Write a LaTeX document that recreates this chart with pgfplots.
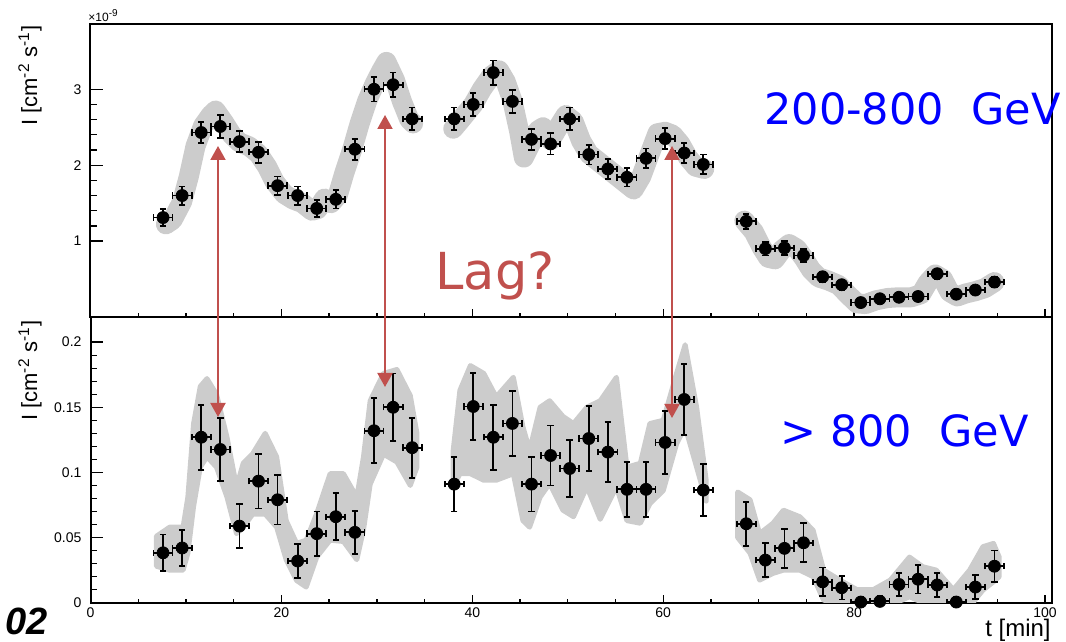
\documentclass[border=0pt]{standalone}
\usepackage{pgfplots}
\pgfplotsset{compat=1.18}
\usepackage{pgfplotstable}
\usepackage{fontspec}
\setmainfont{Liberation Sans}
\newfontfamily\dejavu{DejaVu Sans}
\usetikzlibrary{arrows.meta}
\definecolor{lagred}{RGB}{192,80,77}
\definecolor{band}{RGB}{204,204,204}
\definecolor{gevblue}{RGB}{0,0,255}

% top panel points: t, flux (1e-9 cm^-2 s^-1), t error, flux error
\pgfplotstableread{
t v et ev
7.6 1.31 1 0.11
9.6 1.60 1 0.12
11.6 2.43 1 0.14
13.6 2.51 1 0.15
15.6 2.31 1 0.14
17.6 2.17 1 0.14
19.6 1.73 1 0.12
21.7 1.60 1 0.12
23.7 1.43 1 0.11
25.7 1.55 1 0.12
27.7 2.21 1 0.14
29.7 3.00 1 0.16
31.7 3.06 1 0.16
33.7 2.61 1 0.15
38.1 2.61 1 0.15
40.1 2.80 1 0.15
42.2 3.22 1 0.16
44.2 2.84 1 0.15
46.2 2.34 1 0.14
48.2 2.28 1 0.14
50.2 2.61 1 0.15
52.2 2.14 1 0.13
54.2 1.95 1 0.13
56.2 1.84 1 0.12
58.2 2.09 1 0.13
60.2 2.35 1 0.14
62.2 2.16 1 0.13
64.2 2.01 1 0.13
68.7 1.26 1 0.10
70.7 0.90 1 0.09
72.7 0.91 1 0.09
74.7 0.81 1 0.09
76.7 0.53 1 0.07
78.7 0.425 1 0.07
80.7 0.19 1 0.05
82.7 0.24 1 0.06
84.7 0.26 1 0.06
86.7 0.27 1 0.06
88.7 0.57 1 0.07
90.7 0.30 1 0.06
92.7 0.355 1 0.06
94.7 0.46 1 0.07
}\toppts

% bottom panel points
\pgfplotstableread{
t v et ev
7.6 0.0383 1 0.014
9.6 0.042 1 0.014
11.6 0.127 1 0.025
13.6 0.1176 1 0.024
15.6 0.0588 1 0.017
17.6 0.0933 1 0.021
19.6 0.079 1 0.019
21.7 0.032 1 0.013
23.7 0.053 1 0.017
25.7 0.066 1 0.018
27.7 0.054 1 0.0165
29.7 0.132 1 0.025
31.7 0.150 1 0.026
33.7 0.119 1 0.023
38.1 0.091 1 0.021
40.1 0.1506 1 0.026
42.2 0.127 1 0.025
44.2 0.1376 1 0.025
46.2 0.091 1 0.021
48.2 0.113 1 0.023
50.2 0.103 1 0.022
52.2 0.126 1 0.025
54.2 0.1156 1 0.023
56.2 0.087 1 0.021
58.2 0.087 1 0.021
60.2 0.123 1 0.024
62.2 0.156 1 0.027
64.2 0.0864 1 0.020
68.7 0.0606 1 0.017
70.7 0.0327 1 0.013
72.7 0.0417 1 0.015
74.7 0.046 1 0.015
76.7 0.016 1 0.011
78.7 0.0115 1 0.009
80.7 0.0005 1 0.004
82.7 0.001 1 0.004
84.7 0.014 1 0.009
86.7 0.018 1 0.011
88.7 0.0136 1 0.009
90.7 0.0005 1 0.004
92.7 0.012 1 0.009
94.7 0.028 1 0.012
}\botpts

\begin{document}
\begin{tikzpicture}
\useasboundingbox (0,0) rectangle (533pt,321pt);
\pgfplotsset{
  panel/.style={
    scale only axis, width=480.6pt,
    xmin=0, xmax=100.7,
    axis line style={line width=1pt},
    tick style={line width=0.65pt, black},
    tick align=inside, tick pos=left,
    xtick={0,20,40,60,80,100},
    minor x tick num=3, minor y tick num=4,
    xtick style={/pgfplots/major tick length=4pt,/pgfplots/minor tick length=2pt},
    ytick style={/pgfplots/major tick length=6.3pt,/pgfplots/minor tick length=3.3pt},
    ticklabel style={font=\fontsize{7}{8}\selectfont},
    xticklabel style={yshift=1pt},
    yticklabel style={xshift=-1pt},
  },
  pts/.style={
    black, only marks, mark=*, mark size=3pt,
    error bars/.cd, x dir=both, x explicit, y dir=both, y explicit,
    error bar style={line width=0.9pt, black},
    error mark options={rotate=90, black, mark size=1.6pt, line width=0.9pt},
  },
  topband/.style={band, line width=10pt, line join=round, line cap=round, mark=none},
  botband/.style={fill=band, draw=band, line width=2.5pt, line join=round, mark=none},
}

% ---------------- top panel ----------------
\begin{axis}[panel, height=146.5pt, at={(45.25pt,162.5pt)}, anchor=south west,
  ymin=0, ymax=3.86, ytick={1,2,3}, yticklabels={1,2,3}, xticklabels={}]
\addplot[topband] coordinates {(7.9,1.22) (8.6,1.28) (9.6,1.52) (10.3,1.85) (11.0,2.25) (11.8,2.52) (12.6,2.66) (13.1,2.72) (14.0,2.56) (14.8,2.4) (15.6,2.3) (16.6,2.25) (17.6,2.15) (18.5,1.98) (19.3,1.78) (20.3,1.62) (21.2,1.55) (22.2,1.5) (23.2,1.4) (23.8,1.42) (24.5,1.56) (25.2,1.5) (25.9,1.6) (26.6,1.9) (27.4,2.2) (28.2,2.55) (29.0,2.85) (29.8,3.08) (30.5,3.25) (31.0,3.36) (31.9,3.12) (32.6,2.85) (33.4,2.6) (33.8,2.55)};
\addplot[topband] coordinates {(38.0,2.48) (38.8,2.6) (40.1,2.8) (41.0,3.0) (42.0,3.18) (42.8,3.25) (43.5,3.1) (44.2,2.85) (44.9,2.45) (45.4,2.1) (46.2,2.3) (46.8,2.45) (47.4,2.5) (48.2,2.33) (49.0,2.5) (49.8,2.66) (50.6,2.58) (51.4,2.32) (52.2,2.15) (53.2,2.05) (54.2,1.95) (55.2,1.85) (56.2,1.75) (56.9,1.68) (57.7,1.85) (58.5,2.12) (59.4,2.42) (60.2,2.44) (61.0,2.4) (61.8,2.28) (62.6,2.1) (63.4,1.98) (64.3,1.95)};
\addplot[topband] coordinates {(68.5,1.27) (69.5,1.12) (70.3,0.92) (71.0,0.78) (71.7,0.76) (72.4,0.88) (73.2,0.96) (74.0,0.9) (74.7,0.78) (75.5,0.62) (76.3,0.52) (77.3,0.48) (78.4,0.42) (79.3,0.3) (80.3,0.18) (81.2,0.17) (82.3,0.22) (83.5,0.25) (84.7,0.26) (86.0,0.26) (87.0,0.3) (87.7,0.45) (88.5,0.56) (89.3,0.5) (90.0,0.33) (90.8,0.27) (91.7,0.31) (92.7,0.34) (93.7,0.38) (94.7,0.46)};
\addplot[pts] table[x=t, y=v, x error=et, y error=ev] {\toppts};
\end{axis}

% ---------------- bottom panel ----------------
\begin{axis}[panel, height=142.85pt, at={(45.25pt,19.65pt)}, anchor=south west,
  ymin=0, ymax=0.2193, ytick={0,0.05,0.1,0.15,0.2}, yticklabels={0,0.05,0.1,0.15,0.2},
  xticklabels={0,20,40,60,80,100}]
\addplot[botband] coordinates {(6.9,0.051) (8.3,0.058) (9.7,0.058) (10.2,0.081) (10.8,0.1375) (11.5,0.166) (12.2,0.172) (13.2,0.16) (14.3,0.127) (15.3,0.089) (16.0,0.107) (17.0,0.1145) (18.3,0.13) (19.5,0.112) (20.5,0.063) (21.6,0.0455) (22.6,0.048) (23.7,0.0685) (25.1,0.099) (26.5,0.099) (27.9,0.081) (28.6,0.112) (29.3,0.155) (30.7,0.176) (32.1,0.179) (33.5,0.159) (34.2,0.13)
 (34.2,0.104) (33.5,0.09) (32.1,0.108) (30.7,0.114) (29.3,0.091) (28.6,0.056) (27.9,0.033) (26.5,0.047) (25.1,0.048) (23.7,0.035) (22.6,0.012) (21.6,0.017) (20.5,0.033) (19.5,0.058) (18.3,0.068) (17.0,0.068) (16.0,0.058) (15.3,0.053) (14.3,0.081) (13.2,0.104) (12.2,0.112) (11.5,0.104) (10.8,0.074) (10.2,0.038) (9.7,0.025) (8.3,0.025) (6.9,0.028)} -- cycle;
\addplot[botband] coordinates {(38.0,0.117) (38.7,0.163) (39.8,0.182) (41.2,0.176) (42.5,0.158) (44.3,0.173) (45.3,0.135) (46.0,0.117) (47.1,0.15) (48.1,0.155) (49.5,0.143) (50.6,0.1375) (52.0,0.15) (53.4,0.155) (55.1,0.173) (56.2,0.104) (57.6,0.107) (58.6,0.1375) (60.0,0.14) (61.4,0.176) (62.3,0.198) (63.5,0.15) (64.5,0.094)
 (64.5,0.078) (63.5,0.104) (62.3,0.135) (61.4,0.122) (60.0,0.086) (58.6,0.076) (57.6,0.061) (56.2,0.063) (55.1,0.089) (53.4,0.064) (52.0,0.089) (50.6,0.066) (49.5,0.071) (48.1,0.0915) (47.1,0.081) (46.0,0.058) (45.3,0.063) (44.3,0.099) (42.5,0.094) (41.2,0.094) (39.8,0.099) (38.7,0.099) (38.0,0.089)} -- cycle;
\addplot[botband] coordinates {(67.8,0.085) (69.1,0.079) (70.1,0.053) (71.5,0.061) (72.6,0.071) (74.3,0.066) (75.7,0.0557) (76.8,0.025) (78.5,0.0174) (80.3,0.01) (82.0,0.01) (83.8,0.0174) (85.8,0.035) (87.2,0.0276) (88.6,0.025) (90.4,0.01) (92.1,0.025) (93.5,0.043) (94.6,0.0455) (95.2,0.035)
 (95.2,0.02) (94.6,0.016) (93.5,0.0097) (92.1,-0.003) (90.4,-0.005) (88.6,-0.002) (87.2,0.0) (85.8,0.0046) (83.8,-0.002) (82.0,-0.005) (80.3,-0.005) (78.5,-0.001) (76.8,0.002) (75.7,0.020) (74.3,0.025) (72.6,0.025) (71.5,0.0225) (70.1,0.0174) (69.1,0.038) (67.8,0.05)} -- cycle;
\addplot[pts] table[x=t, y=v, x error=et, y error=ev] {\botpts};
\end{axis}

% ---------------- annotations ----------------
\node[rotate=90, anchor=east, inner sep=0pt, font=\fontsize{11}{13}\selectfont] at (15pt,308.5pt) {I [cm\textsuperscript{-2} s\textsuperscript{-1}]};
\node[rotate=90, anchor=east, inner sep=0pt, font=\fontsize{11}{13}\selectfont] at (15pt,161pt) {I [cm\textsuperscript{-2} s\textsuperscript{-1}]};
\node[anchor=base west, inner sep=0pt, font=\fontsize{6}{7}\selectfont] at (44pt,310.3pt) {×10\textsuperscript{-9}};
\node[anchor=base east, inner sep=0pt, font=\fontsize{12}{14}\selectfont] at (525.5pt,2.5pt) {t [min]};
\node[anchor=base west, inner sep=0pt, font=\fontsize{19}{22}\selectfont\bfseries\itshape] at (2.5pt,3.5pt) {02};

\node[anchor=base west, inner sep=0pt, text=gevblue, font=\dejavu\fontsize{21.5}{24}\selectfont] at (382pt,258.5pt) {200-800\ \ GeV};
\node[anchor=base west, inner sep=0pt, text=gevblue, font=\dejavu\fontsize{21.5}{24}\selectfont] at (390pt,97.5pt) {>\ 800\ \ GeV};
\node[anchor=base, inner sep=0pt, text=lagred, font=\dejavu\fontsize{25.5}{28}\selectfont] at (247.5pt,176pt) {Lag?};

\foreach \xx/\ya/\yb in {109/248/112.5, 192.5/263.5/127.5, 336/248/112} {
  \draw[lagred, line width=1pt, {Triangle[width=7.5pt,length=7pt]}-{Triangle[width=7.5pt,length=7pt]}] (\xx pt,\ya pt) -- (\xx pt,\yb pt);
}
\end{tikzpicture}
\end{document}
